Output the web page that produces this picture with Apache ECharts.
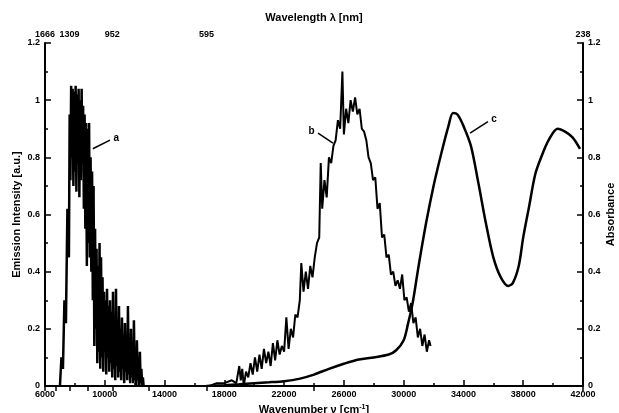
<!DOCTYPE html>
<html>
<head>
<meta charset="utf-8">
<script src="https://cdn.jsdelivr.net/npm/echarts@6/dist/echarts.min.js"></script>
<style>
  html, body { margin: 0; padding: 0; background: #fff; }
  #chart { width: 619px; height: 413px; }
</style>
</head>
<body>
<div id="chart"></div>
<script>
// curve a : NIR emission (wavenumber / intensity)
var aWave = [7000,7100,7200,7300,7400,7500,7600,7650,7700,7750,7800,7850,7900,7950,8000,8050,8100,8150,8200,8250,8300,8350,8400,8450,8500,8550,8600,8650,8700,8750,8800,8850,8900,8950,9000,9050,9100,9150,9200,9250,9300,9350,9400,9450,9500,9550,9600,9650,9700,9750,9800,9850,9900,9950,10000,10050,10100,10150,10200,10250,10300,10350,10400,10450,10500,10550,10600,10650,10700,10750,10800,10850,10900,10950,11000,11050,11100,11150,11200,11250,11300,11350,11400,11450,11500,11550,11600,11650,11700,11750,11800,11850,11900,11950,12000,12050,12100,12150,12200,12250,12300,12350,12400,12450,12500,12550,12600];
var aInt = [0.00,0.10,0.06,0.30,0.22,0.62,0.45,0.95,0.72,1.05,0.80,1.04,0.70,1.03,0.75,1.05,0.68,1.02,0.78,1.04,0.66,1.00,0.72,1.04,0.80,0.98,0.62,0.95,0.55,0.92,0.42,0.90,0.50,0.92,0.45,0.80,0.40,0.75,0.30,0.70,0.14,0.55,0.20,0.48,0.08,0.42,0.12,0.50,0.06,0.45,0.10,0.38,0.05,0.33,0.12,0.30,0.04,0.34,0.10,0.28,0.05,0.30,0.08,0.26,0.03,0.33,0.06,0.25,0.02,0.34,0.07,0.22,0.03,0.28,0.05,0.20,0.02,0.24,0.06,0.18,0.01,0.22,0.05,0.15,0.02,0.28,0.04,0.14,0.01,0.20,0.03,0.12,0.01,0.23,0.02,0.10,0.00,0.16,0.02,0.08,0.00,0.12,0.01,0.06,0.00,0.03,0.00];

// curve b : visible emission
var bWave = [17000,17500,18000,18500,18800,19000,19100,19200,19300,19450,19600,19750,19900,20050,20200,20350,20500,20650,20800,20950,21100,21250,21400,21550,21700,21850,22000,22150,22300,22450,22600,22750,22900,23050,23150,23300,23450,23600,23750,23900,24050,24200,24350,24450,24550,24700,24850,25000,25150,25300,25450,25600,25750,25900,26000,26150,26300,26450,26600,26750,26900,27050,27200,27350,27500,27650,27800,27950,28100,28250,28400,28550,28700,28850,29000,29150,29300,29450,29600,29750,29900,30050,30200,30350,30500,30650,30800,30950,31100,31250,31400,31550,31700,31800];
var bInt = [0.00,0.01,0.01,0.02,0.01,0.07,0.02,0.06,0.00,0.05,0.03,0.08,0.04,0.10,0.05,0.11,0.06,0.13,0.08,0.12,0.07,0.15,0.09,0.16,0.11,0.14,0.12,0.24,0.13,0.20,0.17,0.25,0.24,0.30,0.43,0.33,0.40,0.34,0.42,0.38,0.45,0.50,0.52,0.78,0.62,0.72,0.66,0.80,0.78,0.84,0.86,0.93,0.90,1.10,0.88,0.97,0.92,1.00,0.96,1.01,0.95,0.97,0.90,0.89,0.86,0.80,0.78,0.72,0.73,0.62,0.64,0.52,0.53,0.45,0.46,0.39,0.40,0.35,0.37,0.34,0.39,0.30,0.31,0.26,0.29,0.22,0.24,0.17,0.20,0.14,0.18,0.12,0.16,0.14];

// curve c : absorbance
var cWave = [16800,18000,19000,20000,21000,22000,23000,24000,25000,26000,27000,28000,29000,29500,30000,30300,30600,31000,31500,32000,32500,33000,33300,33600,34000,34500,35000,35500,36000,36500,37000,37300,37700,38000,38400,38800,39200,39700,40300,40800,41300,41800];
var cAbs = [0.000,0.003,0.006,0.010,0.013,0.017,0.025,0.040,0.060,0.078,0.093,0.100,0.110,0.125,0.160,0.220,0.290,0.420,0.570,0.700,0.810,0.910,0.955,0.950,0.910,0.840,0.710,0.570,0.450,0.380,0.350,0.360,0.420,0.520,0.630,0.740,0.800,0.860,0.900,0.890,0.870,0.830];

// top axis : wavelength ticks (nm)
var topLabelNm = [1666, 1309, 952, 595, 238];
var topMinorNm = [1487.5, 1130.5, 773.5, 416.5];

// curve tags: [x0, y0, x1, y1, text] in data units
var tagA = [9200, 0.83, 10350, 0.86, 'a'];
var tagB = [25270, 0.85, 24270, 0.885, 'b'];
var tagC = [34440, 0.885, 35640, 0.925, 'c'];

function zip(xs, ys) {
  var out = [];
  for (var i = 0; i < xs.length; i++) out.push([xs[i], ys[i]]);
  return out;
}
function toWn(nm) {
  return Math.min(42000, Math.max(6000, 1e7 / nm));
}
var topLabelWn = topLabelNm.map(toWn);
var topTickWn = topLabelWn.concat(topMinorNm.map(toWn));
var topText = {};
topLabelWn.forEach(function (v, i) { topText[v] = String(topLabelNm[i]); });

function tagLine(t) {
  return {
    silent: true,
    symbol: ['none', 'none'],
    lineStyle: { color: '#000', width: 1.5, type: 'solid' },
    label: { show: true, position: 'end', formatter: t[4], color: '#000', fontWeight: 'bold', fontSize: 10, distance: 4 },
    data: [[{ coord: [t[0], t[1]] }, { coord: [t[2], t[3]] }]]
  };
}

var font = 'Liberation Sans';
var axisFont = { color: '#000', fontSize: 9, fontWeight: 'bold', fontFamily: font };
var nameFont = { color: '#000', fontSize: 11, fontWeight: 'bold', fontFamily: font };
var blackLine = { lineStyle: { color: '#000', width: 2 } };
var plain = function (v) { return String(Math.round(v * 10) / 10); };

var myChart = echarts.init(document.getElementById('chart'));
var option = {
  animation: false,
  backgroundColor: '#fff',
  grid: { left: 45, right: 36, top: 43, bottom: 27, outerBoundsMode: 'none', containLabel: false },
  xAxis: [
    {
      type: 'value', min: 6000, max: 42000, interval: 4000,
      position: 'bottom',
      name: 'Wavenumber ν [cm{sup|-1}]', nameLocation: 'middle', nameGap: 14,
      nameTextStyle: { color: '#000', fontSize: 11, fontWeight: 'bold', fontFamily: font,
        rich: { sup: { fontSize: 7, fontWeight: 'bold', verticalAlign: 'top', padding: [0, 0, 6, 0], fontFamily: font } } },
      axisLine: blackLine,
      axisTick: { inside: true, length: 6, lineStyle: { color: '#000', width: 1.5 } },
      minorTick: { show: true, splitNumber: 2, length: 3, lineStyle: { color: '#000', width: 1.5 } },
      axisLabel: Object.assign({ margin: 4, formatter: plain }, axisFont),
      splitLine: { show: false }
    },
    {
      type: 'value', min: 6000, max: 42000,
      position: 'top',
      name: 'Wavelength λ [nm]', nameLocation: 'middle', nameGap: 20,
      nameTextStyle: nameFont,
      axisLine: blackLine,
      axisTick: { inside: true, length: 5, customValues: topTickWn, lineStyle: { color: '#000', width: 1.5 } },
      axisLabel: Object.assign({
        margin: 4, customValues: topLabelWn, showMinLabel: true, showMaxLabel: true,
        formatter: function (v) { return topText[v] || ''; }
      }, axisFont),
      splitLine: { show: false }
    }
  ],
  yAxis: [
    {
      type: 'value', min: 0, max: 1.2, interval: 0.2, position: 'left',
      name: 'Emission Intensity [a.u.]', nameLocation: 'middle', nameGap: 23, nameRotate: 90,
      nameMoveOverlap: false,
      nameTextStyle: nameFont,
      axisLine: blackLine,
      axisTick: { inside: true, length: 6, lineStyle: { color: '#000', width: 1.5 } },
      minorTick: { show: true, splitNumber: 2, length: 3, lineStyle: { color: '#000', width: 1.5 } },
      axisLabel: Object.assign({ margin: 5, formatter: plain }, axisFont),
      splitLine: { show: false }
    },
    {
      type: 'value', min: 0, max: 1.2, interval: 0.2, position: 'right',
      name: 'Absorbance', nameLocation: 'middle', nameGap: 22, nameRotate: 90,
      nameMoveOverlap: false,
      nameTextStyle: nameFont,
      axisLine: blackLine,
      axisTick: { inside: true, length: 6, lineStyle: { color: '#000', width: 1.5 } },
      minorTick: { show: true, splitNumber: 2, length: 3, lineStyle: { color: '#000', width: 1.5 } },
      axisLabel: Object.assign({ margin: 5, formatter: plain }, axisFont),
      splitLine: { show: false }
    }
  ],
  series: [
    {
      name: 'a', type: 'line', xAxisIndex: 0, yAxisIndex: 0,
      data: zip(aWave, aInt), showSymbol: false,
      lineStyle: { color: '#000', width: 2.5 },
      markLine: tagLine(tagA)
    },
    {
      name: 'b', type: 'line', xAxisIndex: 0, yAxisIndex: 0,
      data: zip(bWave, bInt), showSymbol: false,
      lineStyle: { color: '#000', width: 2 },
      markLine: tagLine(tagB)
    },
    {
      name: 'c', type: 'line', xAxisIndex: 0, yAxisIndex: 1,
      data: zip(cWave, cAbs), showSymbol: false, smooth: 0.3,
      lineStyle: { color: '#000', width: 2.5 },
      markLine: tagLine(tagC)
    }
  ]
};
myChart.setOption(option);
</script>
</body>
</html>
